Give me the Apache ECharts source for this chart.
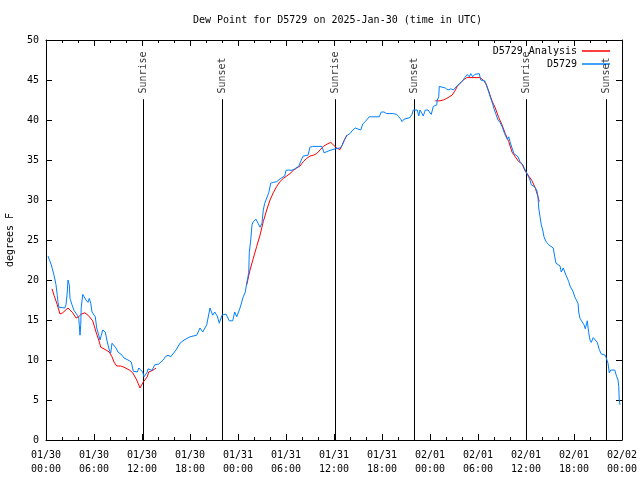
<!DOCTYPE html>
<html><head><meta charset="utf-8">
<script src="https://cdn.jsdelivr.net/npm/echarts@6/dist/echarts.min.js"></script>
<style>html,body{margin:0;padding:0;background:#fff}#c{width:640px;height:480px}</style>
</head><body><div id="c"></div>
<script>
// hours since 2025-01-30 00:00 UTC
const blueHours = [0.25,0.66,1.0,1.25,1.41,1.5,1.62,1.84,2.34,2.5,2.66,2.75,2.91,3.0,3.25,3.5,3.75,3.91,4.09,4.16,4.25,4.34,4.41,4.59,4.84,5.0,5.25,5.41,5.59,5.75,6.0,6.16,6.34,6.59,6.75,6.91,7.09,7.25,7.41,7.66,7.91,8.09,8.25,8.5,8.75,9.0,9.25,9.5,9.75,10.0,10.25,10.41,10.66,10.91,11.16,11.41,11.59,11.84,12.09,12.25,12.41,12.66,12.75,13.25,13.59,13.84,14.09,14.66,14.91,15.25,15.59,15.84,16.25,16.75,17.25,18.0,18.84,19.25,19.59,19.84,20.09,20.5,20.84,21.09,21.41,21.66,22.0,22.5,22.91,23.34,23.59,23.84,24.25,24.66,24.91,25.09,25.34,25.41,25.59,25.75,25.91,26.25,26.5,26.75,27.0,27.16,27.34,27.59,27.84,28.09,28.41,28.84,29.09,29.41,29.84,30.0,30.34,30.75,31.09,31.34,31.59,31.91,32.16,32.75,33.0,33.34,34.5,34.75,35.0,35.5,36.12,36.75,37.0,37.34,37.66,38.0,38.34,38.66,38.91,39.34,39.59,39.91,40.16,40.41,41.66,41.91,42.25,42.59,43.41,43.84,44.09,44.34,44.5,44.75,45.5,45.75,45.91,46.16,46.41,46.59,46.75,47.0,47.16,47.41,47.59,47.75,47.91,48.16,48.41,48.84,48.91,49.09,49.16,49.41,49.91,50.25,50.59,50.91,51.16,51.41,51.75,52.09,52.34,52.66,52.91,53.09,53.34,53.59,53.84,54.16,54.34,54.59,54.84,55.09,55.34,55.59,55.84,56.0,56.25,56.5,56.75,57.0,57.25,57.5,57.66,57.84,58.0,58.25,58.5,58.75,59.0,59.25,59.59,59.91,60.16,60.5,60.66,61.0,61.34,61.5,61.59,61.75,61.91,62.09,62.25,62.41,62.59,62.84,63.09,63.41,63.59,63.75,64.0,64.25,64.41,64.66,64.84,65.0,65.16,65.34,65.5,65.75,65.91,66.09,66.34,66.5,66.59,66.75,67.0,67.25,67.41,67.59,67.66,67.84,68.0,68.16,68.41,68.66,68.91,69.16,69.41,69.66,69.91,70.09,70.25,70.41,70.59,70.84,71.09,71.34,71.5,71.59,71.66,71.75];
const blueValues = [23.0,21.9,20.6,19.4,18.1,17.2,16.6,16.5,16.5,16.9,18.5,20.0,19.4,17.7,16.9,16.2,16.0,15.6,15.2,14.4,13.1,14.4,16.6,18.2,18.1,17.5,17.2,17.7,17.1,16.0,15.8,15.4,14.0,13.1,12.5,13.1,13.75,14.0,13.5,12.25,11.25,10.9,12.1,11.9,11.5,11.0,10.75,10.6,10.25,10.25,10.0,10.2,9.75,8.6,8.5,8.5,9.0,8.75,8.5,7.9,7.75,8.5,8.9,8.7,9.4,9.2,9.5,10.0,10.4,10.6,10.4,10.2,11.25,12.1,12.5,12.9,13.1,14.0,13.5,13.5,14.4,16.5,15.6,16.0,15.5,14.6,15.6,15.75,14.9,14.9,16.0,15.4,16.5,17.9,18.5,19.6,20.9,23.4,25.0,26.9,27.3,27.6,27.1,26.6,27.1,28.75,29.6,30.25,30.9,32.1,32.2,32.3,32.5,32.75,33.0,33.7,33.75,33.7,33.9,33.7,34.2,35.0,35.5,35.6,36.6,36.7,36.7,35.9,36.0,36.2,36.4,36.5,36.8,37.6,38.1,38.3,38.75,39.0,38.75,38.75,39.5,39.8,39.6,40.4,40.4,41.0,41.0,40.8,40.8,40.7,40.4,40.1,39.8,40.1,40.3,40.7,41.25,41.4,41.25,40.5,41.25,40.8,40.5,41.25,41.5,41.25,41.5,40.7,41.7,41.9,42.5,42.9,44.2,44.0,44.0,43.75,43.9,43.75,44.0,44.3,44.6,44.9,45.3,45.7,45.4,45.8,45.4,45.7,45.6,45.8,45.0,45.1,44.9,44.3,43.5,42.7,42.0,41.4,40.7,40.0,39.7,39.2,38.5,37.9,37.6,37.9,37.3,36.5,35.8,35.7,35.4,34.8,34.4,33.75,33.6,32.5,31.9,31.7,31.25,30.4,29.0,27.9,26.9,26.25,25.4,25.0,24.7,24.4,24.2,24.0,22.9,22.1,21.9,21.75,21.0,21.5,21.0,20.6,20.4,19.8,19.25,19.2,18.5,17.9,17.7,17.1,16.0,15.2,14.8,14.4,13.9,14.6,14.9,13.4,12.5,12.2,12.8,12.6,12.2,11.3,10.75,10.5,10.6,10.4,9.6,8.4,8.75,8.96,8.75,7.9,7.5,6.7,5.0,4.4];
const redHours = [0.75,1.0,1.41,1.75,2.09,2.34,2.75,3.0,3.34,3.75,4.09,4.41,4.84,5.25,5.84,6.25,6.59,6.84,7.25,7.91,8.25,8.5,8.84,9.34,9.75,10.41,10.84,11.34,11.75,11.91,12.16,12.41,12.66,12.84,13.41,13.75,14.0,25.09,25.5,25.91,26.34,26.75,27.16,27.59,28.0,28.41,28.84,29.25,29.66,30.09,30.5,30.91,31.34,31.75,32.16,32.59,33.0,33.41,33.84,34.25,34.66,35.16,35.59,35.91,36.34,36.75,37.0,37.25,37.59,37.8,48.66,49.25,49.66,50.09,50.41,50.75,51.09,51.41,51.75,52.16,52.59,54.25,54.66,55.0,55.34,55.75,56.16,56.59,57.0,57.41,57.84,58.25,58.66,59.09,59.5,59.91,60.34,60.75,61.16,61.5,61.66];
const redValues = [18.9,18.1,16.9,15.75,15.9,16.0,16.5,16.25,15.9,15.25,15.4,15.75,15.9,15.6,14.9,13.5,12.5,11.6,11.4,11.0,10.4,9.75,9.25,9.25,9.1,8.75,8.4,7.5,6.5,6.6,7.25,7.5,7.9,8.5,8.75,9.0,null,19.4,21.25,22.7,24.2,25.6,27.3,28.75,30.0,30.9,31.7,32.3,32.7,33.0,33.3,33.7,34.0,34.25,34.8,35.2,35.5,35.6,35.8,36.25,36.7,37.0,37.2,36.9,36.5,36.3,36.8,37.4,38.1,null,42.4,42.4,42.5,42.7,42.9,43.1,43.6,44.2,44.6,45.0,45.3,45.3,45.0,44.5,43.6,42.4,41.5,40.3,39.4,38.3,37.3,36.0,35.4,34.8,34.5,33.6,33.0,32.4,31.5,30.4,29.8];
const eventHours = [12.1875, 22.0625, 36.1875, 46.0625, 60.0625, 70.0625];
const eventNames = ['Sunrise','Sunset','Sunrise','Sunset','Sunrise','Sunset'];
const dayLabels = ['01/30','01/31','02/01','02/02'];
const titleText = 'Dew Point for D5729 on 2025-Jan-30 (time in UTC)';

const FONT = 'DejaVu Sans Mono';
const blueData = blueHours.map((h,i)=>[h, blueValues[i]]);
const redData = redHours.map((h,i)=>[h, redValues[i] === null ? '-' : redValues[i]]);
const eventLineData = [];
eventHours.forEach(h=>{ eventLineData.push([h,0]); eventLineData.push([h,42.6]); eventLineData.push([h,'-']); });
const eventLabelData = eventHours.map((h,i)=>[h, 43.3, eventNames[i]]);

function xFmt(v){
  const d = Math.floor(v/24);
  const hh = Math.round(v - d*24);
  return dayLabels[d] + '\n' + String(hh).padStart(2,'0') + ':00';
}
const lineAx = {show:true,onZero:false,lineStyle:{color:'#000',width:1}};
const tickAx = {show:true,inside:true,length:6,lineStyle:{color:'#000'}};
const minorAx = {show:true,splitNumber:3,length:3,lineStyle:{color:'#000'}};
const legendText = {fontFamily:FONT,fontSize:10,color:'#000'};
const chart = echarts.init(document.getElementById('c'), null, {renderer:'canvas'});
chart.setOption({
  animation:false,
  backgroundColor:'#fff',
  textStyle:{fontFamily:FONT},
  title:{text:titleText,left:188,top:10,textStyle:{fontFamily:FONT,fontSize:10,fontWeight:'normal',color:'#000'}},
  grid:{left:46,right:18,top:40,bottom:40,containLabel:false,outerBoundsMode:'none'},
  legend:[
    {data:['D5729 Analysis'],right:25,top:41,icon:'rect',itemWidth:28,itemHeight:1.5,align:'right',textStyle:legendText,selectedMode:false},
    {data:['D5729'],right:25,top:54,icon:'rect',itemWidth:28,itemHeight:1.5,align:'right',textStyle:legendText,selectedMode:false}
  ],
  xAxis:[
    {type:'value',position:'bottom',min:0,max:72,interval:6,axisLine:lineAx,splitLine:{show:false},
      axisTick:tickAx,minorTick:minorAx,
      axisLabel:{formatter:xFmt,fontFamily:FONT,fontSize:10,color:'#000',lineHeight:14,margin:8}},
    {type:'value',position:'top',min:0,max:72,interval:6,axisLine:lineAx,splitLine:{show:false},
      axisTick:tickAx,minorTick:minorAx,axisLabel:{show:false}}
  ],
  yAxis:[
    {type:'value',position:'left',min:0,max:50,interval:5,axisLine:lineAx,splitLine:{show:false},
      name:'degrees F',nameLocation:'middle',nameRotate:90,nameGap:31,
      nameTextStyle:{fontFamily:FONT,fontSize:10,color:'#000'},
      axisTick:tickAx,axisLabel:{fontFamily:FONT,fontSize:10,color:'#000',margin:7}},
    {type:'value',position:'right',min:0,max:50,interval:5,axisLine:lineAx,splitLine:{show:false},
      axisTick:tickAx,axisLabel:{show:false}}
  ],
  series:[
    {name:'D5729 Analysis',type:'line',data:redData,showSymbol:false,symbol:'none',connectNulls:false,
      lineStyle:{color:'#ff0000',width:1},itemStyle:{color:'#ff0000'},z:3},
    {name:'D5729',type:'line',data:blueData,showSymbol:false,symbol:'none',
      lineStyle:{color:'#0080ff',width:1},itemStyle:{color:'#0080ff'},z:4},
    {name:'events',type:'line',data:eventLineData,showSymbol:false,symbol:'none',connectNulls:false,silent:true,
      lineStyle:{color:'#000',width:1},z:2},
    {name:'eventLabels',type:'scatter',data:eventLabelData,symbolSize:0,silent:true,
      label:{show:true,position:'inside',rotate:90,align:'left',verticalAlign:'middle',
        formatter:p=>p.data[2],fontFamily:FONT,fontSize:10,color:'#000'},z:5}
  ]
});
</script></body></html>
